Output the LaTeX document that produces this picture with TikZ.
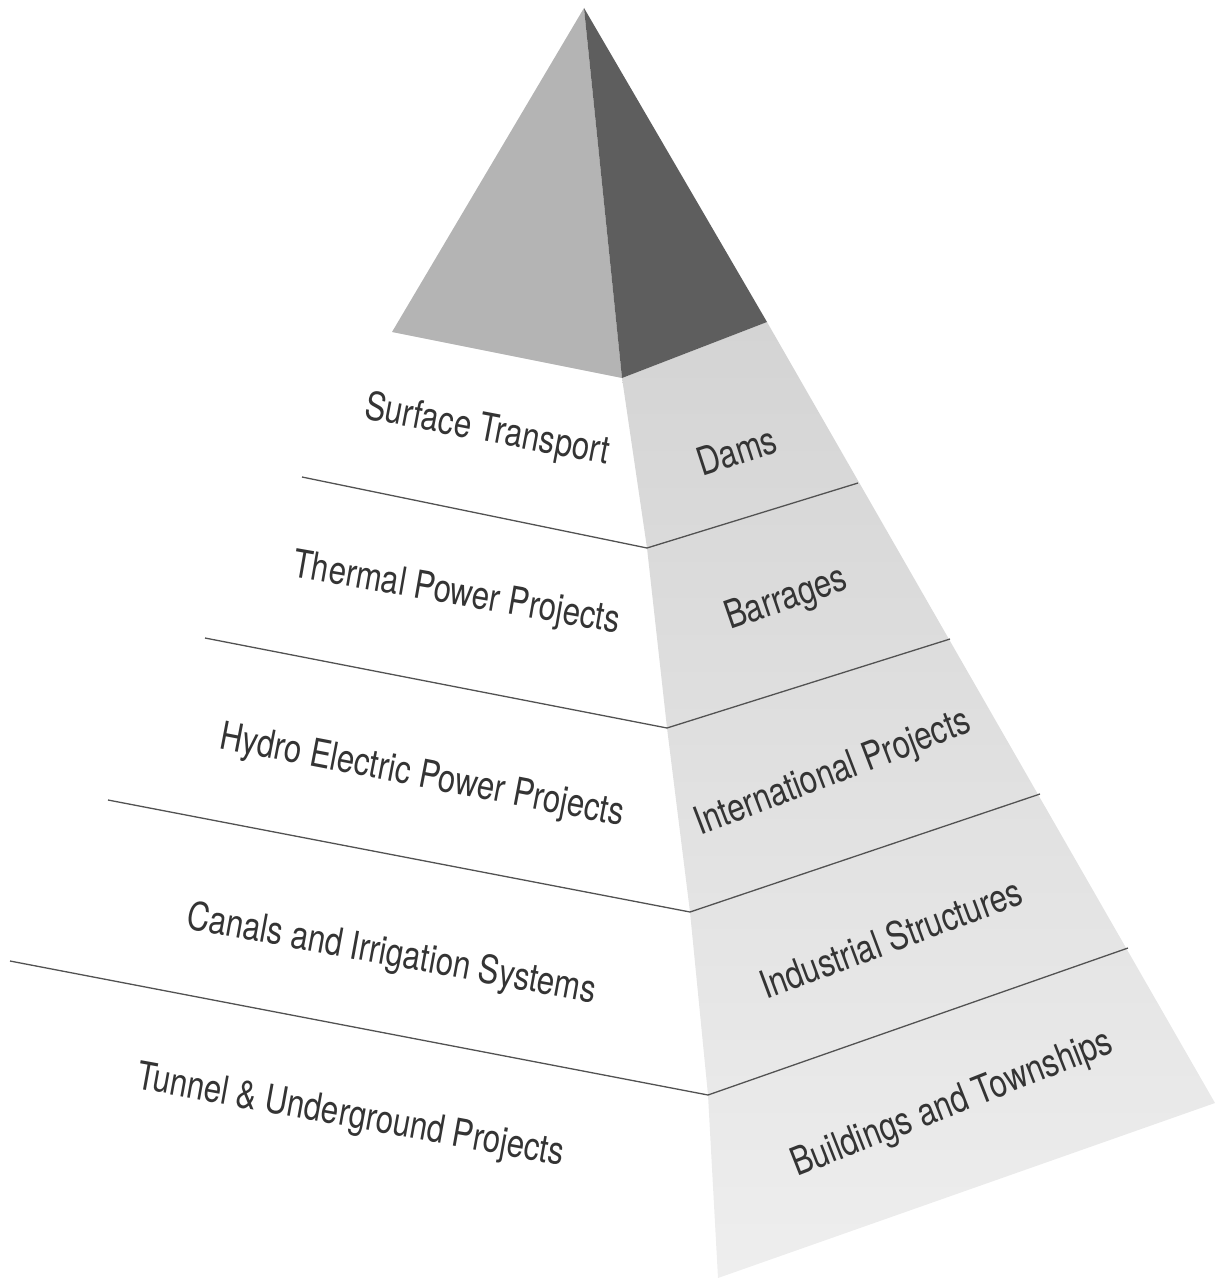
\documentclass[tikz,border=0pt]{standalone}
\usepackage{fontspec}
\setmainfont{TeX Gyre Heros}[FakeStretch=0.8]
\usepackage{tikz}

\definecolor{capleft}{RGB}{180,180,180}
\definecolor{capright}{RGB}{94,94,94}
\definecolor{facetop}{RGB}{212,212,212}
\definecolor{facebot}{RGB}{238,238,238}
\definecolor{ink}{RGB}{52,52,52}

\begin{document}
\begin{tikzpicture}[x=1pt,y=-1pt,
  tier/.style={draw=ink!85,line width=1.3pt},
  lbl/.style={anchor=base west,inner sep=0pt,text=ink,font=\fontsize{39}{42}\selectfont}]
\useasboundingbox (0,0) rectangle (1224,1279);
% corners: l = left edge, m = middle ridge, r = right edge
\coordinate (apex) at (584,8);
\foreach \n/\x/\y in {l0/392/332, l1/302/477, l2/205/638, l3/108/800, l4/10/961,
                      m0/622/378, m1/647/548, m2/667/728, m3/690/912, m4/708/1095, m5/718/1278,
                      r0/767/322, r1/858/483, r2/950/639, r3/1040/794, r4/1128/948, r5/1215/1103} {
  \coordinate (\n) at (\x,\y);
}
% right face and the cap
\shade[top color=facetop,bottom color=facebot] (m0) -- (m1) -- (m2) -- (m3) -- (m4) -- (m5) -- (r5) -- (r0) -- cycle;
\fill[capleft] (apex) -- (l0) -- (m0) -- cycle;
\fill[capright] (apex) -- (m0) -- (r0) -- cycle;
% tier lines
\foreach \i in {1,...,4} {
  \draw[tier] (l\i) -- (m\i) -- (r\i);
}
% left face
\node[lbl,rotate=-10.8] (surface) at (363,418) {Surface Transport};
\node[lbl,rotate=-9.9] (thermal) at (291,576) {Thermal Power Projects};
\node[lbl,rotate=-10.9] (hydro) at (218,748) {Hydro Electric Power Projects};
\node[lbl,rotate=-10.4] (canals) at (185,928) {Canals and Irrigation Systems};
\node[lbl,rotate=-10.3] (tunnel) at (135,1088) {Tunnel \& Underground Projects};
% right face
\node[lbl,rotate=18] (dams) at (702,477) {Dams};
\node[lbl,rotate=19] (barrages) at (730,630) {Barrages};
\node[lbl,rotate=21] (intl) at (700,836) {International Projects};
\node[lbl,rotate=20.5] (industrial) at (766,1000) {Industrial Structures};
\node[lbl,rotate=21.5] (buildings) at (797,1177) {Buildings and Townships};
\end{tikzpicture}
\end{document}
